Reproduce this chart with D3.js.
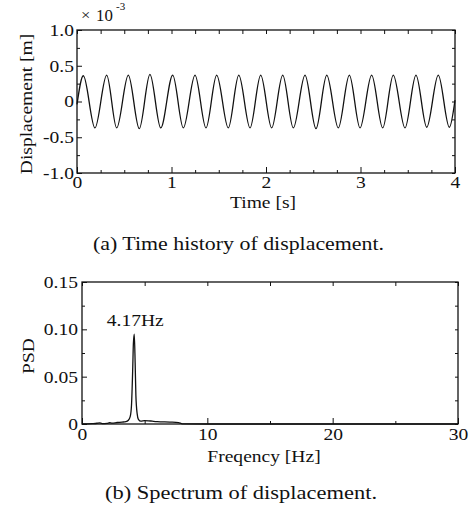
<!DOCTYPE html>
<html>
<head>
<meta charset="utf-8">
<script src="https://cdn.jsdelivr.net/npm/d3@7"></script>
<style>
  html, body { margin: 0; padding: 0; background: #fff; }
  svg { display: block; }
  text { font-family: "Liberation Serif", "Times New Roman", serif; fill: #111; }
</style>
</head>
<body>
<svg id="chart" width="475" height="509"></svg>
<script>
// ---- Data: (a) time history (extrema), units ×10^-3 m
const timeS = [0, 0.067, 0.190, 0.314, 0.420, 0.543, 0.659, 0.772, 0.886, 1.013, 1.125,
  1.249, 1.365, 1.478, 1.601, 1.712, 1.831, 1.944, 2.060, 2.177, 2.289, 2.413, 2.529,
  2.643, 2.765, 2.882, 2.995, 3.118, 3.235, 3.347, 3.471, 3.587, 3.701, 3.823, 3.940, 4.0];
const displacement = [-0.04, 0.36, -0.37, 0.37, -0.37, 0.37, -0.38, 0.38, -0.37, 0.37, -0.37,
  0.37, -0.37, 0.37, -0.37, 0.37, -0.37, 0.37, -0.37, 0.37, -0.37, 0.37, -0.38,
  0.37, -0.37, 0.37, -0.37, 0.37, -0.37, 0.37, -0.37, 0.37, -0.36, 0.37, -0.36, 0.02];
const timeTicks = [0, 1, 2, 3, 4];
const timeTickLabels = ["0", "1", "2", "3", "4"];
const dispTicks = [1.0, 0.5, 0, -0.5, -1.0];
const dispTickLabels = ["1.0", "0.5", "0", "-0.5", "-1.0"];

// ---- Data: (b) spectrum
const freqHz = [0, 0.8, 1.2, 1.4, 1.6, 2.0, 2.2, 2.4, 2.8, 3.2, 3.5, 3.7, 3.85, 3.95, 4.05,
  4.1, 4.17, 4.24, 4.3, 4.4, 4.5, 4.7, 5.0, 5.3, 5.6, 6.0, 7.0, 7.7, 8.0, 10, 20, 30];
const psd = [0, 0.0004, 0.0008, 0.0012, 0.0005, 0.0007, 0.0013, 0.0009, 0.0016, 0.002, 0.0025,
  0.004, 0.008, 0.02, 0.06, 0.085, 0.095, 0.065, 0.03, 0.011, 0.005, 0.003, 0.0035, 0.0034,
  0.003, 0.0025, 0.002, 0.0015, 0.0002, 0, 0, 0];
const freqTicks = [0, 10, 20, 30];
const freqTickLabels = ["0", "10", "20", "30"];
const psdTicks = [0.15, 0.10, 0.05, 0];
const psdTickLabels = ["0.15", "0.10", "0.05", "0"];
const peakLabel = "4.17Hz";
const peakFreq = 4.17;
const peakValue = 0.095;

const SX = 1.15;   // horizontal glyph stretch of the scanned typeface
const svg = d3.select("#chart");

function label(x, y, str, size, anchor, rot, sx) {
  const t = svg.append("text")
    .attr("transform", `translate(${x},${y})` + (rot ? ` rotate(${rot})` : "") + ` scale(${sx || SX},1)`)
    .attr("text-anchor", anchor || "middle")
    .style("font-size", size + "px")
    .text(str);
  return t;
}

function styleAxis(g, kind, pad) {
  g.select(".domain").remove();
  g.selectAll("line").attr("stroke", "#111").attr("stroke-width", 1);
  g.selectAll("text")
    .style("font-size", "17px")
    .attr("fill", "#111")
    .each(function () {
      const t = d3.select(this);
      if (kind === "left") {
        t.attr("x", -pad / SX).attr("transform", `scale(${SX},1)`);
      } else if (kind === "bottom") {
        t.attr("transform", `scale(${SX},1)`).attr("y", pad).attr("dy", "0.71em");
      }
    });
}

function framePlot(x, y, cfg) {
  const [x0, x1] = x.range();
  const [y1, y0] = y.range();
  const g = svg.append("g");
  // bottom axis with labels
  const gb = g.append("g").attr("transform", `translate(0,${y1})`)
    .call(d3.axisBottom(x).tickValues(cfg.xTicks).tickSize(-cfg.xMajBot).tickPadding(0)
      .tickFormat((d, i) => cfg.xLabels[i]));
  styleAxis(gb, "bottom", cfg.xPad);
  const gbm = g.append("g").attr("transform", `translate(0,${y1})`)
    .call(d3.axisBottom(x).tickValues(cfg.xMinor).tickSize(-3).tickFormat(""));
  styleAxis(gbm);
  // top
  const gt = g.append("g").attr("transform", `translate(0,${y0})`)
    .call(d3.axisTop(x).tickValues(cfg.xTicks.concat(cfg.xMinor)).tickSize(-cfg.xTop).tickFormat(""));
  styleAxis(gt);
  // left with labels
  const gl = g.append("g").attr("transform", `translate(${x0},0)`)
    .call(d3.axisLeft(y).tickValues(cfg.yTicks).tickSize(-5).tickPadding(0)
      .tickFormat((d, i) => cfg.yLabels[i]));
  styleAxis(gl, "left", cfg.yPad);
  const glm = g.append("g").attr("transform", `translate(${x0},0)`)
    .call(d3.axisLeft(y).tickValues(cfg.yMinor).tickSize(-3).tickFormat(""));
  styleAxis(glm);
  // right
  const gr = g.append("g").attr("transform", `translate(${x1},0)`)
    .call(d3.axisRight(y).tickValues(cfg.yTicks.concat(cfg.yMinor)).tickSize(-3).tickFormat(""));
  styleAxis(gr);
  // frame
  g.append("rect").attr("x", x0).attr("y", y0).attr("width", x1 - x0).attr("height", y1 - y0)
    .attr("fill", "none").attr("stroke", "#111").attr("stroke-width", 1.3);
}

// ================= (a) Time history =================
const xA = d3.scaleLinear().domain([0, 4]).range([77, 455]);
const yA = d3.scaleLinear().domain([-1, 1]).range([173, 30]);

svg.append("path")
  .datum(timeS.map((t, i) => [t, displacement[i]]))
  .attr("fill", "none").attr("stroke", "#111").attr("stroke-width", 1.3)
  .attr("d", d3.line().x(d => xA(d[0])).y(d => yA(d[1])).curve(d3.curveMonotoneX));

framePlot(xA, yA, {
  xTicks: timeTicks, xLabels: timeTickLabels, xMinor: d3.range(0.25, 4, 0.25).filter(v => v % 1 !== 0),
  yTicks: dispTicks, yLabels: dispTickLabels, yMinor: [0.75, 0.25, -0.25, -0.75],
  xPad: 3, yPad: 3, xMajBot: 6, xTop: 4
});

label(263, 208, "Time [s]", 17, "middle");
label(32, 104, "Displacement [m]", 17, "middle", -90);
// exponent
label(81, 20, "×", 15, "start", 0, 1.1);
label(96, 21, "10", 16, "start", 0, 1.05);
label(116, 10, "-3", 10, "start", 0, 1.1);

// caption (a)
svg.append("text").attr("x", 93).attr("y", 250).attr("textLength", 291)
  .attr("lengthAdjust", "spacingAndGlyphs").style("font-size", "18px")
  .text("(a) Time history of displacement.");

// ================= (b) Spectrum =================
const xB = d3.scaleLinear().domain([0, 30]).range([82, 458]);
const yB = d3.scaleLinear().domain([0, 0.15]).range([424, 282]);

svg.append("path")
  .datum(freqHz.map((f, i) => [f, psd[i]]))
  .attr("fill", "none").attr("stroke", "#111").attr("stroke-width", 1.3)
  .attr("d", d3.line().x(d => xB(d[0])).y(d => yB(d[1])).curve(d3.curveMonotoneX));

framePlot(xB, yB, {
  xTicks: freqTicks, xLabels: freqTickLabels, xMinor: [5, 15, 25],
  yTicks: psdTicks, yLabels: psdTickLabels, yMinor: [0.125, 0.075, 0.025],
  xPad: 4, yPad: 4, xMajBot: 6, xTop: 4
});

label(xB(peakFreq) + 1, yB(peakValue) - 8, peakLabel, 17, "middle");
label(264, 462, "Freqency [Hz]", 17, "middle");
label(34, 356, "PSD", 17, "middle", -90);

svg.append("text").attr("x", 105).attr("y", 499).attr("textLength", 272)
  .attr("lengthAdjust", "spacingAndGlyphs").style("font-size", "18px")
  .text("(b) Spectrum of displacement.");
</script>
</body>
</html>
